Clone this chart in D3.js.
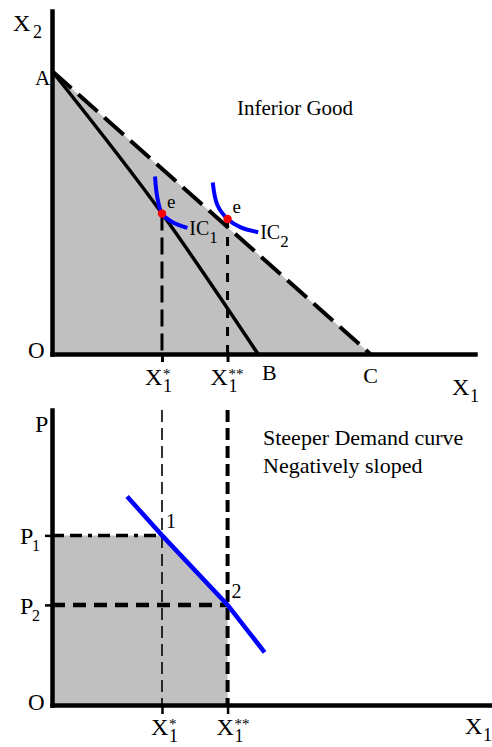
<!DOCTYPE html>
<html><head><meta charset="utf-8">
<script src="https://cdn.jsdelivr.net/npm/d3@7"></script>
<style>
html,body{margin:0;padding:0;background:#fff;}
svg{display:block;}
text{font-family:"Liberation Serif","Times New Roman",serif;fill:#000;}
</style></head><body>
<svg id="chart" width="492" height="747"></svg>
<script>
// ---- Upper panel: consumer choice in (X1, X2) ----
const interceptA = 13.2;     // X2 intercept of both budget lines
const interceptB = 9.74;     // X1 intercept before the price fall
const interceptC = 15.05;    // X1 intercept after the price fall
const budgetOld = [[0, 13.2], [5.2, 6.55], [9.74, 0]];
const budgetNew = [[0, 13.2], [15.05, 0]];
const ic1 = [[4.87, 8.28], [4.98, 7.3], [5.2, 6.55], [5.7, 6.15], [6.4, 5.88]];
const ic2 = [[7.6, 8.0], [7.82, 6.95], [8.3, 6.3], [8.9, 5.92], [9.75, 5.68]];
const equilibria = [{x: 5.2, y: 6.55, ic: "1"}, {x: 8.3, y: 6.3, ic: "2"}];
const qtyTicks = [{v: 5.2, star: "*"}, {v: 8.3, star: "**"}];

// ---- Lower panel: demand in (X1, P) ----
const priceLevels = [{name: "1", q: 5.2, p: 8.05}, {name: "2", q: 8.3, p: 4.75}];
const demand = [[3.55, 9.9], [5.2, 8.05], [8.3, 4.75], [10.05, 2.5]];
const noteLines = ["Steeper Demand curve", "Negatively sloped"];

const svg = d3.select("#chart");
const BLUE = "#0000ff", RED = "#ff0000", GREY = "#c0c0c0";

const xTop = d3.scaleLinear().domain([0, 20]).range([52, 475]);
const yTop = d3.scaleLinear().domain([0, 16]).range([354, 11]);
const xBot = d3.scaleLinear().domain([0, 20.8]).range([52, 492]);
const yBot = d3.scaleLinear().domain([0, 14]).range([705, 410]);

const lineTop = d3.line().x(d => xTop(d[0])).y(d => yTop(d[1]));
const lineBot = d3.line().x(d => xBot(d[0])).y(d => yBot(d[1]));

// ---------- upper panel ----------
const upper = svg.append("g");
upper.append("path")
  .attr("d", lineTop([[0, 0], [0, interceptA], [interceptC, 0]]) + "Z")
  .attr("fill", GREY);

// guides from the optimum points down to the quantity axis
const e1 = equilibria[0], e2 = equilibria[1];
upper.append("line")
  .attr("x1", xTop(e1.x)).attr("x2", xTop(e1.x))
  .attr("y1", yTop(e1.y)).attr("y2", yTop(0))
  .attr("stroke", "#000").attr("stroke-width", 3).attr("stroke-dasharray", "17,7");
upper.append("line")
  .attr("x1", xTop(e2.x)).attr("x2", xTop(e2.x))
  .attr("y1", yTop(e2.y)).attr("y2", yTop(0))
  .attr("stroke", "#000").attr("stroke-width", 3).attr("stroke-dasharray", "9,9");

upper.append("path")
  .attr("d", d3.line().x(d => xTop(d[0])).y(d => yTop(d[1])).curve(d3.curveMonotoneX)(budgetOld))
  .attr("fill", "none").attr("stroke", "#000").attr("stroke-width", 3.5);
upper.append("path")
  .attr("d", lineTop(budgetNew))
  .attr("fill", "none").attr("stroke", "#000").attr("stroke-width", 4)
  .attr("stroke-dasharray", "26,9");

const icLine = d3.line().x(d => xTop(d[0])).y(d => yTop(d[1])).curve(d3.curveCatmullRom);
[ic1, ic2].forEach(c => upper.append("path").attr("d", icLine(c))
  .attr("fill", "none").attr("stroke", BLUE).attr("stroke-width", 4));

upper.selectAll("circle.eq").data(equilibria).join("circle")
  .attr("cx", d => xTop(d.x)).attr("cy", d => yTop(d.y)).attr("r", 4.2).attr("fill", RED);

// axes
const axTopX = upper.append("g").attr("transform", `translate(0,${yTop(0)})`)
  .call(d3.axisBottom(xTop).tickValues(qtyTicks.map(d => d.v)).tickFormat("").tickSize(8).tickSizeOuter(0));
const axTopY = upper.append("g").attr("transform", `translate(${xTop(0)},0)`)
  .call(d3.axisLeft(yTop).tickValues([]).tickSizeOuter(0));
[axTopX, axTopY].forEach(a => {
  a.select(".domain").attr("stroke", "#000").attr("stroke-width", 4.5).attr("stroke-linecap", "square");
  a.selectAll(".tick line").attr("stroke", "#000").attr("stroke-width", 3);
});

// ---------- lower panel ----------
const lower = svg.append("g");
const p1 = priceLevels[0], p2 = priceLevels[1];
lower.append("path")
  .attr("d", lineBot([[0, 0], [0, p1.p], [p1.q, p1.p], [p2.q, p2.p], [p2.q, 0]]) + "Z")
  .attr("fill", GREY);

lower.append("line")
  .attr("x1", xBot(p1.q)).attr("x2", xBot(p1.q)).attr("y1", yBot(14)).attr("y2", yBot(0))
  .attr("stroke", "#000").attr("stroke-width", 1.6).attr("stroke-dasharray", "12,6");
lower.append("line")
  .attr("x1", xBot(p2.q)).attr("x2", xBot(p2.q)).attr("y1", yBot(14)).attr("y2", yBot(0))
  .attr("stroke", "#000").attr("stroke-width", 4).attr("stroke-dasharray", "12,6");
lower.append("line")
  .attr("x1", xBot(0)).attr("x2", xBot(p1.q)).attr("y1", yBot(p1.p)).attr("y2", yBot(p1.p))
  .attr("stroke", "#000").attr("stroke-width", 3.5).attr("stroke-dasharray", "12,6,12,6,4,6");
lower.append("line")
  .attr("x1", xBot(0)).attr("x2", xBot(p2.q)).attr("y1", yBot(p2.p)).attr("y2", yBot(p2.p))
  .attr("stroke", "#000").attr("stroke-width", 4.5).attr("stroke-dasharray", "13,8");

lower.append("path").attr("d", lineBot(demand))
  .attr("fill", "none").attr("stroke", BLUE).attr("stroke-width", 4.5);

const axBotX = lower.append("g").attr("transform", `translate(0,${yBot(0)})`)
  .call(d3.axisBottom(xBot).tickValues(qtyTicks.map(d => d.v)).tickFormat("").tickSize(9).tickSizeOuter(0));
const axBotY = lower.append("g").attr("transform", `translate(${xBot(0)},0)`)
  .call(d3.axisLeft(yBot).tickValues(priceLevels.map(d => d.p)).tickFormat("").tickSize(7).tickSizeOuter(0));
[axBotX, axBotY].forEach(a => {
  a.select(".domain").attr("stroke", "#000").attr("stroke-width", 4.5).attr("stroke-linecap", "square");
  a.selectAll(".tick line").attr("stroke", "#000").attr("stroke-width", 2.5);
});

// ---------- text ----------
function txt(g, x, y, s, size) {
  return g.append("text").attr("x", x).attr("y", y).attr("font-size", size).text(s);
}
// X with a subscript and optional stars stacked above it, as one text element
function xLabel(g, x, y, sub, star) {
  const t = g.append("text").attr("x", x).attr("y", y).attr("font-size", 24);
  t.append("tspan").text("X");
  if (star) t.append("tspan").attr("x", x + 18).attr("y", y - 6).attr("font-size", 15).text(star);
  t.append("tspan").attr("x", x + 18).attr("y", y + 7).attr("font-size", 18).text(sub);
}

txt(upper, 13, 31, "X", 24); txt(upper, 33, 38, "2", 18);
txt(upper, 35, 85, "A", 21);
txt(upper, 28, 358, "O", 23);
txt(upper, xTop(interceptB) + 4, 380, "B", 22);
txt(upper, xTop(interceptC) - 7, 383, "C", 22);
xLabel(upper, 452, 395, "1", null);
qtyTicks.forEach(t => xLabel(upper, xTop(t.v) - 17, 385, "1", t.star));
txt(upper, 237, 115, "Inferior Good", 21);
equilibria.forEach(e => {
  txt(upper, xTop(e.x) + 5, yTop(e.y) - 6, "e", 19);
});
const icLabels = [[ic1, "1"], [ic2, "2"]];
icLabels.forEach(([c, n]) => {
  const last = c[c.length - 1];
  txt(upper, xTop(last[0]) + 2, yTop(last[1]) + 7, "IC", 20);
  txt(upper, xTop(last[0]) + 22, yTop(last[1]) + 15, n, 17);
});

txt(lower, 35, 432, "P", 24);
txt(lower, 28, 710, "O", 23);
priceLevels.forEach(d => {
  txt(lower, 20, yBot(d.p) + 9, "P", 24);
  txt(lower, 32, yBot(d.p) + 16, d.name, 16);
  txt(lower, xBot(d.q) + 4, yBot(d.p) - 7, d.name, 20);
});
qtyTicks.forEach(t => xLabel(lower, xBot(t.v) - 11, 735, "1", t.star));
xLabel(lower, 465, 734, "1", null);
noteLines.forEach((s, i) => txt(lower, 263, 445 + i * 28, s, 22));
</script>
</body></html>
